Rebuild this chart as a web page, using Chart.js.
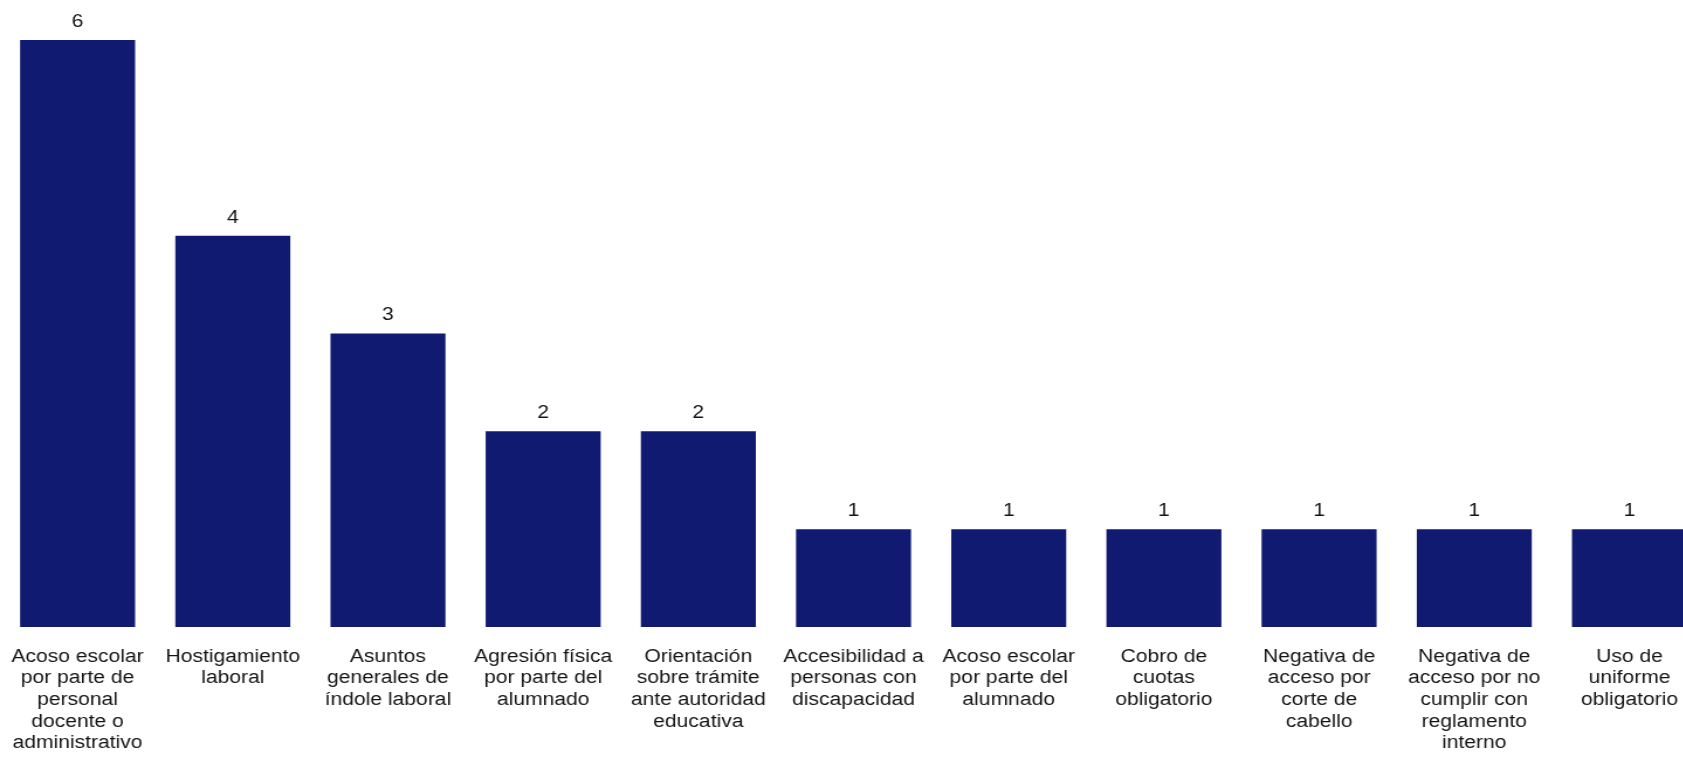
<!DOCTYPE html>
<html>
<head>
<meta charset="utf-8">
<script src="https://cdn.jsdelivr.net/npm/chart.js@4.4.0/dist/chart.umd.min.js"></script>
<style>
  html, body { margin: 0; padding: 0; background: #fff; overflow: hidden; }
  /* the source picture is stretched sideways, so stretch the canvas the same way */
  #wrap { position: relative; width: 1459px; height: 758px; transform: scaleX(1.17); transform-origin: 0 0; }
</style>
</head>
<body>
<div id="wrap"><canvas id="chart"></canvas></div>
<script>
// categories (already split into lines as in the picture)
const categories = [
    ['Acoso escolar', 'por parte de', 'personal', 'docente o', 'administrativo'],
    ['Hostigamiento', 'laboral'],
    ['Asuntos', 'generales de', 'índole laboral'],
    ['Agresión física', 'por parte del', 'alumnado'],
    ['Orientación', 'sobre trámite', 'ante autoridad', 'educativa'],
    ['Accesibilidad a', 'personas con', 'discapacidad'],
    ['Acoso escolar', 'por parte del', 'alumnado'],
    ['Cobro de', 'cuotas', 'obligatorio'],
    ['Negativa de', 'acceso por', 'corte de', 'cabello'],
    ['Negativa de', 'acceso por no', 'cumplir con', 'reglamento', 'interno'],
    ['Uso de', 'uniforme', 'obligatorio']
];
const counts = [6, 4, 3, 2, 2, 1, 1, 1, 1, 1, 1];

const FONT = "'Liberation Sans', Arial, sans-serif";
const TEXT = '#141414';

// numbers above each bar
const valueLabels = {
    id: 'valueLabels',
    afterDatasetsDraw(chart) {
        const ctx = chart.ctx;
        const meta = chart.getDatasetMeta(0);
        ctx.save();
        ctx.font = '18px ' + FONT;
        ctx.fillStyle = TEXT;
        ctx.textAlign = 'center';
        ctx.textBaseline = 'middle';
        meta.data.forEach((bar, i) => {
            ctx.fillText(String(counts[i]), bar.x, bar.y - 18);
        });
        ctx.restore();
    }
};

new Chart(document.getElementById('chart').getContext('2d'), {
    type: 'bar',
    data: {
        labels: categories,
        datasets: [{
            data: counts,
            backgroundColor: '#0f1a70',
            borderWidth: 0,
            categoryPercentage: 1,
            barPercentage: 0.741
        }]
    },
    options: {
        responsive: true,
        maintainAspectRatio: false,
        animation: false,
        layout: { padding: { top: 40, left: 0, right: 0, bottom: 0 } },
        plugins: {
            legend: { display: false },
            tooltip: { enabled: false }
        },
        scales: {
            x: {
                grid: { display: false, drawTicks: false },
                border: { display: false },
                ticks: {
                    autoSkip: false,
                    maxRotation: 0,
                    minRotation: 0,
                    padding: 19,
                    color: TEXT,
                    font: { family: FONT, size: 18, lineHeight: 1.2 }
                },
                afterFit(scale) {
                    // fixed label band, no side padding for wide labels
                    scale.height = 131;
                    scale.paddingLeft = 0;
                    scale.paddingRight = 0;
                }
            },
            y: {
                display: false,
                min: 0,
                max: 6
            }
        }
    },
    plugins: [valueLabels]
});
</script>
</body>
</html>
